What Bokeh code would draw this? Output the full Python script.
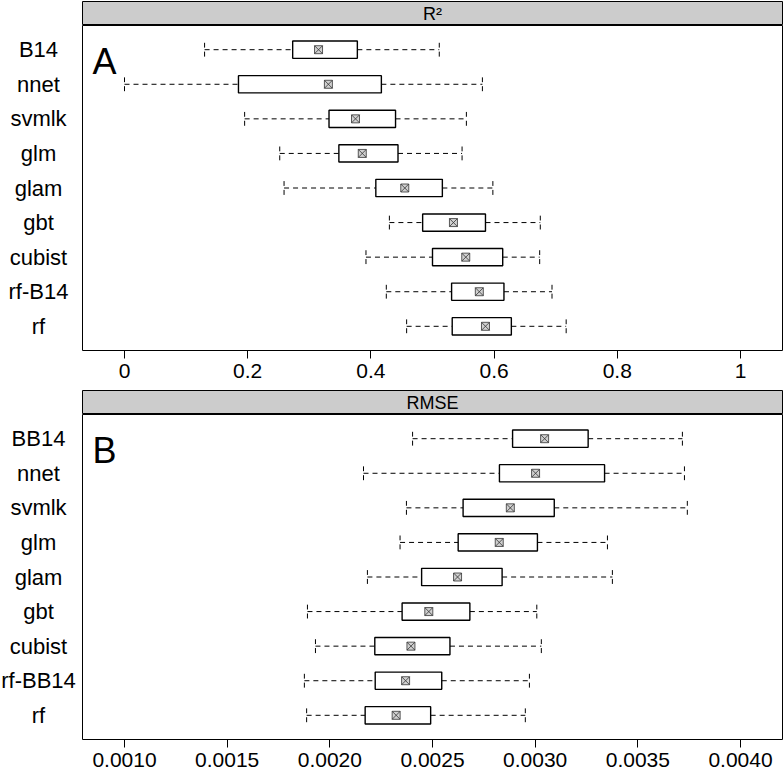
from bokeh.plotting import figure
from bokeh.layouts import column, row
from bokeh.models import Range1d, FactorRange, FixedTicker, Spacer, ColumnDataSource
from bokeh.embed import file_html
from bokeh.resources import INLINE
from bokeh.core.properties import value

# ---------------- data ----------------
models_A = ["B14", "nnet", "svmlk", "glm", "glam", "gbt", "cubist", "rf-B14", "rf"]
r2_low = [0.130, 0.000, 0.195, 0.252, 0.259, 0.430, 0.392, 0.425, 0.458]
r2_q1 = [0.273, 0.185, 0.332, 0.348, 0.408, 0.484, 0.500, 0.531, 0.532]
r2_med = [0.315, 0.331, 0.375, 0.386, 0.455, 0.534, 0.554, 0.576, 0.586]
r2_q3 = [0.378, 0.417, 0.440, 0.444, 0.516, 0.586, 0.614, 0.616, 0.628]
r2_high = [0.511, 0.581, 0.555, 0.548, 0.598, 0.675, 0.674, 0.694, 0.717]
r2_ticks = [0.0, 0.2, 0.4, 0.6, 0.8, 1.0]
r2_tick_labels = ["0", "0.2", "0.4", "0.6", "0.8", "1"]

models_B = ["BB14", "nnet", "svmlk", "glm", "glam", "gbt", "cubist", "rf-BB14", "rf"]
rmse_low = [0.002403, 0.002164, 0.002373, 0.002342, 0.002183, 0.001891, 0.001930, 0.001876, 0.001887]
rmse_q1 = [0.002890, 0.002826, 0.002649, 0.002625, 0.002447, 0.002352, 0.002219, 0.002221, 0.002172]
rmse_med = [0.003046, 0.003002, 0.002879, 0.002825, 0.002622, 0.002482, 0.002395, 0.002369, 0.002323]
rmse_q3 = [0.003258, 0.003338, 0.003093, 0.003011, 0.002839, 0.002682, 0.002585, 0.002545, 0.002491]
rmse_high = [0.003717, 0.003727, 0.003741, 0.003352, 0.003376, 0.003008, 0.003030, 0.002972, 0.002952]
rmse_ticks = [0.0010, 0.0015, 0.0020, 0.0025, 0.0030, 0.0035, 0.0040]
rmse_tick_labels = ["0.0010", "0.0015", "0.0020", "0.0025", "0.0030", "0.0035", "0.0040"]

# ---------------- layout constants ----------------
FONT = "Liberation Sans"
LEFT_W = 82
MAIN_W = 702
STRIP_H = 25
MAIN_H = 364
BOTTOM = 39


def panel(models, lo, q1, med, q3, hi, title, letter, xr, ticks, tick_labels):
    factors = list(reversed(models))
    yr = FactorRange(factors=factors, range_padding=0.2, range_padding_units="absolute")

    # strip header
    s = figure(width=MAIN_W, height=STRIP_H, x_range=Range1d(0, 1), y_range=Range1d(0, 1),
               toolbar_location=None, output_backend="svg",
               x_axis_location=None, y_axis_location=None,
               min_border_left=0, min_border_right=2, min_border_top=1, min_border_bottom=0)
    s.grid.visible = False
    s.background_fill_color = "#cccccc"
    s.outline_line_color = "black"
    s.outline_line_width = 1
    s.text(x=[0.5], y=[0.5], text=[title], text_align="center", text_baseline="middle",
           text_font=value(FONT), text_font_size="18px", text_color="black")

    # row labels
    lab = figure(width=LEFT_W, height=MAIN_H, x_range=Range1d(0, LEFT_W), y_range=yr,
                 toolbar_location=None, output_backend="svg",
                 x_axis_location=None, y_axis_location=None,
                 min_border_left=0, min_border_right=0, min_border_top=0, min_border_bottom=BOTTOM)
    lab.grid.visible = False
    lab.outline_line_color = None
    lab.text(x=[38] * len(models), y=models, text=models, text_align="center",
             text_baseline="middle", text_font=value(FONT), text_font_size="22px",
             text_color="black")

    # main plot
    p = figure(width=MAIN_W, height=MAIN_H, x_range=xr, y_range=yr,
               toolbar_location=None, output_backend="svg", y_axis_location=None,
               min_border_left=0, min_border_right=2, min_border_top=0, min_border_bottom=BOTTOM)
    p.grid.visible = False
    p.outline_line_color = "black"
    p.outline_line_width = 1

    ax = p.xaxis[0]
    ax.ticker = FixedTicker(ticks=ticks)
    ax.major_label_overrides = {t: l for t, l in zip(ticks, tick_labels)}
    ax.axis_line_color = None
    ax.major_tick_line_color = "black"
    ax.major_tick_out = 8
    ax.major_tick_in = 0
    ax.minor_tick_line_color = None
    ax.major_label_standoff = 5
    ax.major_label_text_font = FONT
    ax.major_label_text_font_size = "21px"
    ax.major_label_text_color = "black"

    src = ColumnDataSource(dict(
        m=models, lo=lo, q1=q1, med=med, q3=q3, hi=hi,
        mlo=[(m, -0.2) for m in models], mhi=[(m, 0.2) for m in models],
    ))
    dash = "5 4"
    p.segment(x0="lo", y0="m", x1="q1", y1="m", source=src, line_color="black",
              line_width=1, line_dash=dash)
    p.segment(x0="q3", y0="m", x1="hi", y1="m", source=src, line_color="black",
              line_width=1, line_dash=dash)
    p.segment(x0="lo", y0="mlo", x1="lo", y1="mhi", source=src, line_color="black",
              line_width=1, line_dash=dash)
    p.segment(x0="hi", y0="mlo", x1="hi", y1="mhi", source=src, line_color="black",
              line_width=1, line_dash=dash)
    p.hbar(y="m", left="q1", right="q3", height=0.5, source=src, fill_color="white",
           line_color="black", line_width=1.4)
    p.scatter(x="med", y="m", source=src, marker="square_x", size=8,
              fill_color="#d0d0d0", line_color="#333333", line_width=0.8)

    p.text(x=[xr.start], y=[(models[0], -0.33)], text=[letter], x_offset=10,
           text_align="left", text_baseline="alphabetic", text_font=value(FONT),
           text_font_size="36px", text_color="black")

    return column(row(Spacer(width=LEFT_W, height=STRIP_H), s), row(lab, p))


pa = panel(models_A, r2_low, r2_q1, r2_med, r2_q3, r2_high, "R²", "A",
           Range1d(-0.0682, 1.0682), r2_ticks, r2_tick_labels)
pb = panel(models_B, rmse_low, rmse_q1, rmse_med, rmse_q3, rmse_high, "RMSE", "B",
           Range1d(0.0007955, 0.0042045), rmse_ticks, rmse_tick_labels)

layout = column(pa, pb)

html = file_html(layout, INLINE)
html = html.replace("<head>", "<head><style>html,body{margin:0;padding:0;}</style>", 1)
open("out.html", "w").write(html)
